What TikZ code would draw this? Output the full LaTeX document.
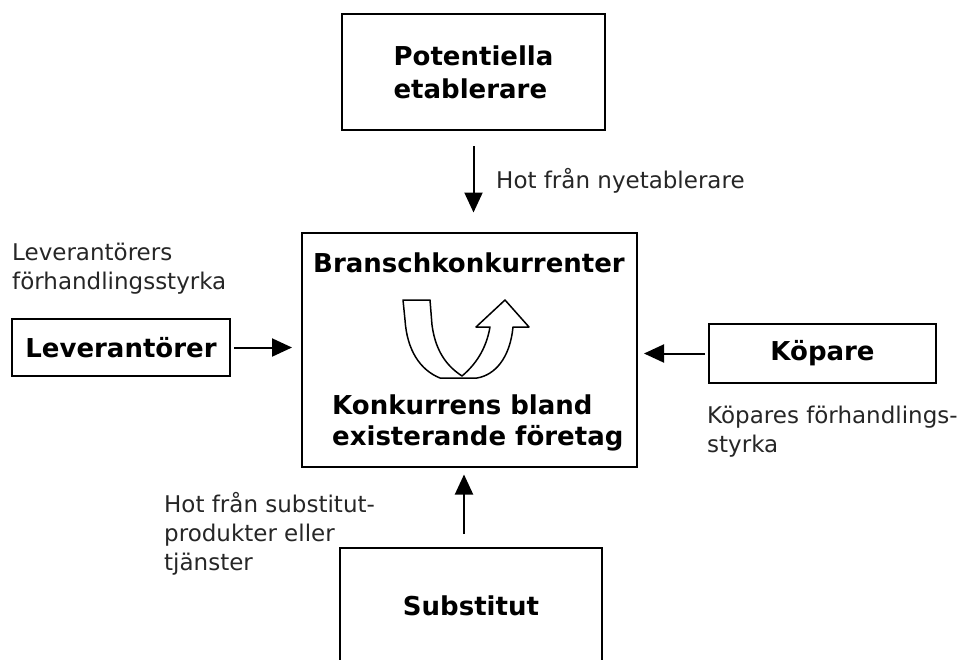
\documentclass[tikz,border=0pt]{standalone}
\usepackage{fontspec}
\setmainfont{DejaVu Sans}
\usetikzlibrary{arrows.meta}

\tikzset{
  box/.style={draw=black, line width=2pt, inner sep=0pt, align=left,
              font=\bfseries\fontsize{26}{33}\selectfont},
  boldtext/.style={inner sep=0pt, align=left,
                   font=\bfseries\fontsize{26}{31}\selectfont},
  labeltext/.style={inner sep=0pt, align=left, text=black!85,
                    font=\fontsize{23}{29}\selectfont},
  force/.style={line width=2pt,
                -{Triangle[length=20pt,width=18pt]}},
  turn/.style={line width=1.5pt, line join=round}
}

\begin{document}
\begin{tikzpicture}[x=1pt, y=-1pt]
  \useasboundingbox (0,0) rectangle (968,659);
  \clip (0,0) rectangle (968,659);

  % the five forces
  \node[box, minimum width=263pt, minimum height=116pt] (pot) at (473.5,72)
       {Potentiella\\etablerare};
  \node[box, minimum width=335pt, minimum height=234pt] (center) at (469.5,349.5) {};
  \node[box, minimum width=218pt, minimum height=57pt] (lev) at (121,347.5)
       {Leverantörer};
  \node[box, minimum width=227pt, minimum height=59pt] (kop) at (822.5,353.5)
       {Köpare};
  \node[box, minimum width=262pt, minimum height=116pt] (sub) at (471,606)
       {Substitut};

  % texts inside the industry box
  \node[boldtext, anchor=base] (bransch) at (469,272) {Branschkonkurrenter};
  \node[boldtext, anchor=north west] (rivalry) at (332,395)
       {Konkurrens bland\\existerande företag};

  % rivalry symbol: U-shaped arrow
  \draw[turn] (403,300) -- (430,300) -- (432,325)
     .. controls (436,355) and (450,368) .. (462,376)
     .. controls (475,365) and (486,350) .. (490,327)
     -- (476,327) -- (505,300) -- (529,327) -- (513,327)
     .. controls (510,358) and (495,375) .. (477,378)
     -- (440,378)
     .. controls (420,370) and (407,350) .. (405,320) -- cycle;

  % arrows towards the industry
  \draw[force, shorten <=15pt, shorten >=19pt] (pot.south) -- (pot.south |- center.north);
  \draw[force, shorten <=3pt, shorten >=9pt] (lev.east) -- (lev.east -| center.west);
  \draw[force, shorten <=3pt, shorten >=6pt] (kop.west) -- (kop.west -| center.east);
  \draw[force, shorten <=13pt, shorten >=7pt]
       ([xshift=-7pt]sub.north) -- ([xshift=-7pt]sub.north |- center.south);

  % labels
  \node[labeltext, anchor=base west] (hotny) at (496,188) {Hot från nyetablerare};
  \node[labeltext, anchor=north west] (levlab) at (12,243)
       {Leverantörers\\förhandlingsstyrka};
  \node[labeltext, anchor=north west] (koplab) at (707,406)
       {Köpares förhandlings-\\styrka};
  \node[labeltext, anchor=north west] (sublab) at (164,492)
       {Hot från substitut-\\produkter eller\\tjänster};
\end{tikzpicture}
\end{document}
